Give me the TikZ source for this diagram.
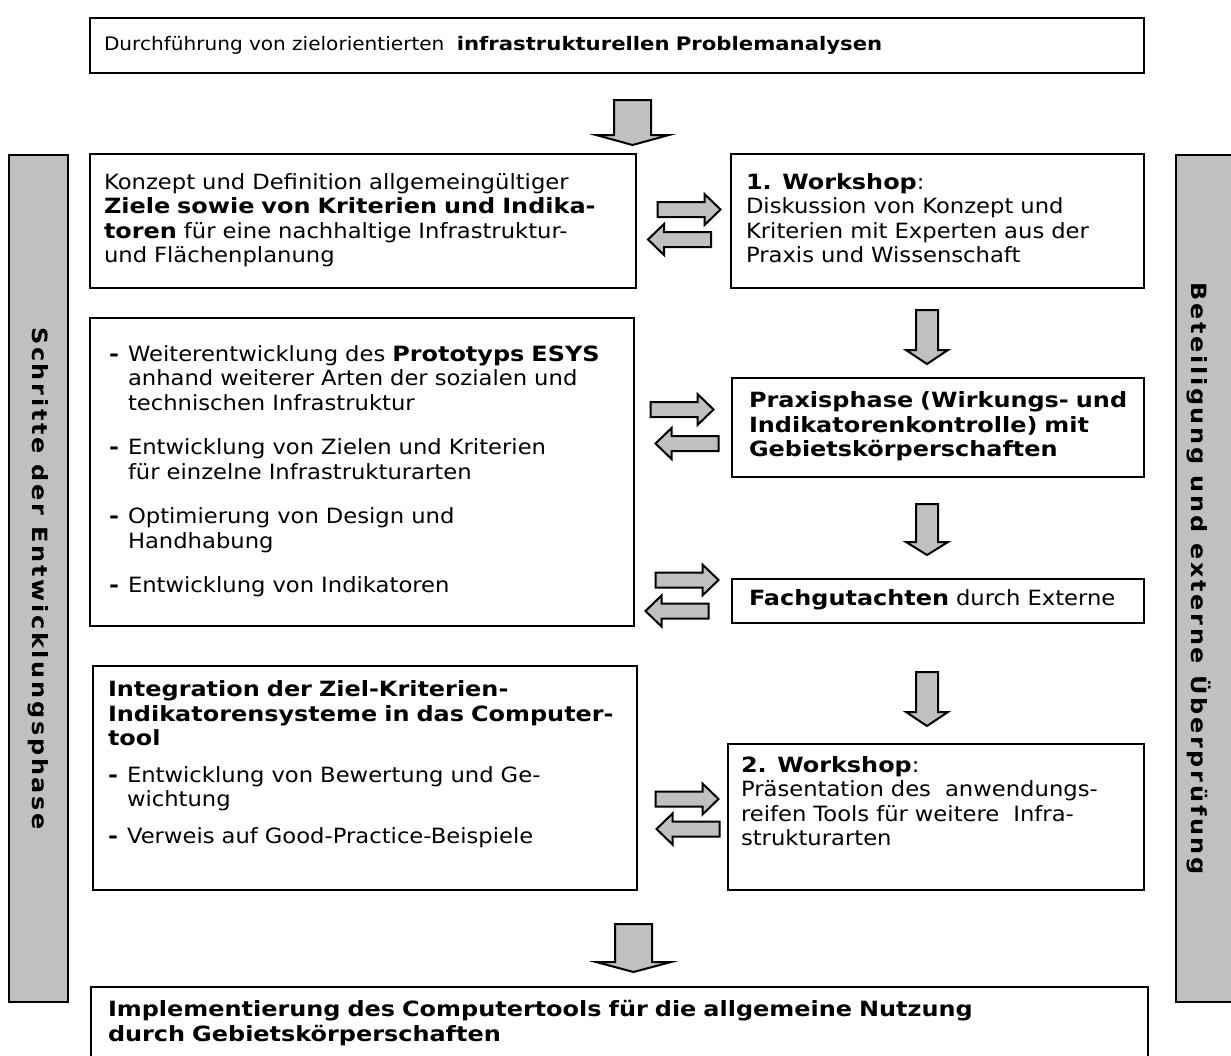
\documentclass[tikz,border=0pt]{standalone}
\usepackage{fontspec}
\setmainfont{DejaVu Sans}[UprightFeatures={FakeStretch=1.08},BoldFeatures={FakeStretch=1.14}]
\newfontfamily\seitenfont{DejaVu Sans}[BoldFeatures={FakeStretch=1.14,LetterSpace=13}]
\usetikzlibrary{calc}
\definecolor{balken}{HTML}{C0C0C0}

% Blockpfeile (Mitte bzw. obere Mitte als Bezugspunkt)
\newcommand{\rpfeil}[1]{\draw[pfeil] (#1) ++(-31.5,-7.5) -- ++(47,0) -- ++(0,-8) -- ++(16,15.5) -- ++(-16,15.5) -- ++(0,-8) -- ++(-47,0) -- cycle;}
\newcommand{\lpfeil}[1]{\draw[pfeil] (#1) ++(31.5,-7.5) -- ++(-47,0) -- ++(0,-8) -- ++(-16,15.5) -- ++(16,15.5) -- ++(0,-8) -- ++(47,0) -- cycle;}
\newcommand{\dpfeil}[5]{\draw[pfeil] (#1) ++(-#3,0) -- ++(0,{#2-#5}) -- ++({#3-#4},0) -- ++(#4,#5) -- ++(#4,-#5) -- ++({#3-#4},0) -- ++(0,{#5-#2}) -- cycle;}
% Textzeilen ohne Umbruch
\newcommand{\zeilen}[1]{\begin{tabular}{@{}l@{}}#1\end{tabular}}
\newcommand{\strich}{\makebox[9.5pt][l]{\textbf{-}}}
\newcommand{\einzug}{\hspace*{9.5pt}}

\begin{document}
\begin{tikzpicture}[x=0.5pt,y=-0.5pt,
  box/.style={draw,line width=1pt,anchor=north west,align=left,inner ysep=0pt,
    font=\fontsize{10.5}{12.25}\selectfont},
  bar/.style={draw,line width=1pt,fill=balken,minimum height=423.5pt},
  bartext/.style={rotate=-90,font=\fontsize{10.5}{12}\seitenfont\bfseries},
  pfeil/.style={draw,line width=1pt,fill=balken,line join=miter}]
\useasboundingbox (0,0) rectangle (1231,1055);

% Seitenbalken
\node[bar,minimum width=29.5pt] (schritte) at (38.5,578.5) {};
\node[bartext] (schrittetext) at (schritte.center) {Schritte der Entwicklungsphase};
\node[bar,minimum width=32pt] (beteiligung) at (1208,578.5) {};
\node[bartext] (beteiligungtext) at ($(beteiligung.center)+(-9,0)$) {Beteiligung und externe Überprüfung};

% Kaesten
\node[box,text width=513pt,minimum height=27.5pt,inner xsep=7pt,font=\fontsize{9.3}{12}\selectfont] (analyse) at (89,17)
  {\zeilen{Durchführung von zielorientierten\ \ \textbf{infrastrukturellen Problemanalysen}}};
\node[box,text width=259pt,minimum height=67pt,inner xsep=7pt] (konzept) at (89,153)
  {\zeilen{Konzept und Definition allgemeingültiger\\
   \textbf{Ziele sowie von Kriterien und Indika-}\\
   \textbf{toren} für eine nachhaltige Infrastruktur-\\
   und Flächenplanung}};
\node[box,text width=191.5pt,minimum height=67pt,inner xsep=7.5pt] (workshopa) at (730,153)
  {\zeilen{\textbf{1. Workshop}:\\
   Diskussion von Konzept und\\
   Kriterien mit Experten aus der\\
   Praxis und Wissenschaft}};
\node[box,text width=253pt,minimum height=154pt,inner xsep=9.5pt] (weiter) at (89,317)
  {\zeilen{\strich Weiterentwicklung des \textbf{Prototyps ESYS}\\
   \einzug anhand weiterer Arten der sozialen und\\
   \einzug technischen Infrastruktur\\[10pt]
   \strich Entwicklung von Zielen und Kriterien\\
   \einzug für einzelne Infrastrukturarten\\[10pt]
   \strich Optimierung von Design und\\
   \einzug Handhabung\\[10pt]
   \strich Entwicklung von Indikatoren}};
\node[box,text width=189pt,minimum height=49.5pt,inner xsep=8.5pt] (praxis) at (731,377)
  {\zeilen{\textbf{Praxisphase (Wirkungs- und}\\
   \textbf{Indikatorenkontrolle) mit}\\
   \textbf{Gebietskörperschaften}}};
\node[box,text width=189pt,minimum height=22pt,inner xsep=8.5pt] (fach) at (731,578)
  {\zeilen{\textbf{Fachgutachten} durch Externe}};
\node[box,text width=257pt,minimum height=112pt,inner xsep=7.5pt] (integration) at (92,665)
  {\zeilen{\textbf{Integration der Ziel-Kriterien-}\\
   \textbf{Indikatorensysteme in das Computer-}\\
   \textbf{tool}\\[6pt]
   \strich Entwicklung von Bewertung und Ge-\\
   \einzug wichtung\\[6pt]
   \strich Verweis auf Good-Practice-Beispiele\\[13pt]}};
\node[box,text width=195pt,minimum height=73pt,inner xsep=6.5pt] (workshopb) at (727,743)
  {\zeilen{\textbf{2. Workshop}:\\
   Präsentation des\ \ anwendungs-\\
   reifen Tools für weitere\ \ Infra-\\
   strukturarten\\[13pt]}};
\node[box,text width=511.5pt,minimum height=37pt,inner xsep=8.5pt] (implement) at (90,986)
  {\zeilen{\textbf{Implementierung des Computertools für die allgemeine Nutzung}\\
   \textbf{durch Gebietskörperschaften}}};

% Pfeile nach unten
\dpfeil{$(analyse.south)+(15.5,26)$}{45}{18.5}{36.5}{10}
\dpfeil{$(workshopa.south)+(-10.5,21)$}{54}{11}{21}{14}
\dpfeil{$(praxis.south)+(-11,26)$}{51}{11}{21}{13}
\dpfeil{$(fach.south)+(-11,48)$}{54}{11}{21}{14}
\dpfeil{$(integration.south)+(268.5,33)$}{48}{18.5}{37.5}{10}

% Doppelpfeile
\rpfeil{$(konzept.east |- workshopa.west)!.5!(workshopa.west)+(5.5,-11.5)$}
\lpfeil{$(konzept.east |- workshopa.west)!.5!(workshopa.west)+(-4,18.5)$}
\rpfeil{$(weiter.east |- praxis.west)!.5!(praxis.west)+(-1,-18)$}
\lpfeil{$(weiter.east |- praxis.west)!.5!(praxis.west)+(4,16)$}
\rpfeil{$(weiter.east |- fach.west)!.5!(fach.west)+(4,-21)$}
\lpfeil{$(weiter.east |- fach.west)!.5!(fach.west)+(-6,10)$}
\rpfeil{$(integration.east |- workshopb.west)!.5!(workshopb.west)+(4.5,-18)$}
\lpfeil{$(integration.east |- workshopb.west)!.5!(workshopb.west)+(5.5,12)$}
\end{tikzpicture}
\end{document}
